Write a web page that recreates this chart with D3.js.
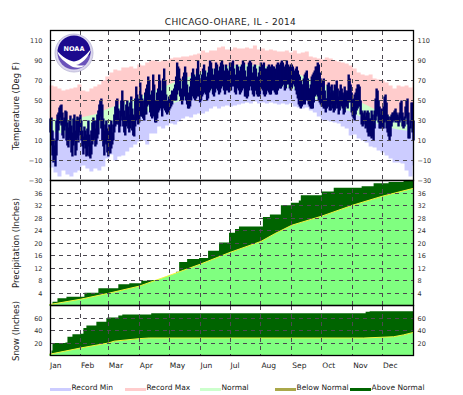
<!DOCTYPE html>
<html>
<head>
<meta charset="utf-8">
<script src="https://cdn.jsdelivr.net/npm/d3@7"></script>
<style>
  html, body { margin: 0; padding: 0; background: #fff; }
  svg { display: block; }
  text { font-family: "DejaVu Sans", sans-serif; fill: #222; }
  .grid line { stroke: #4c4850; stroke-width: 1; stroke-dasharray: 4 4; shape-rendering: crispEdges; }
  .axis path, .axis line { display: none; }
  .grid path { display: none; }
  .axis text, .grid text { font-size: 6.5px; fill: #333; }
</style>
</head>
<body>
<svg id="chart" width="463" height="395"></svg>
<script>
const months = [ 'Jan', 'Feb', 'Mar', 'Apr', 'May', 'Jun', 'Jul', 'Aug', 'Sep', 'Oct', 'Nov', 'Dec', ];
const monthStart = [ 0, 31, 59, 90, 120, 151, 181, 212, 243, 273, 304, 334, ];

const tempTicks = [ 110, 90, 70, 50, 30, 10, -10, -30, ];
const precipTicks = [ 36, 32, 28, 24, 20, 16, 12, 8, 4, ];
const snowTicks = [ 60, 40, 20, ];

// record values read every 4 days
const recordStep = 4;
const recordMax = [
  65, 64, 62, 60, 61, 62, 63, 66, 60, 59, 62, 64, 66, 70, 74, 78, 81, 80, 83, 83, 84, 82, 86,
  85, 88, 90, 90, 89, 90, 90, 92, 93, 93, 94, 94, 95, 96, 97, 100, 98, 100, 100, 103, 104, 101, 101,
  103, 102, 102, 103, 102, 105, 101, 102, 100, 101, 100, 99, 99, 100, 98, 100, 97, 98, 99, 94, 93,
  92, 91, 93, 92, 90, 89, 88, 87, 85, 82, 78, 76, 75, 76, 72, 71, 70, 68, 65, 62, 65, 64, 65, 63, 68,
];
const recordMin = [
  -17, -22, -26, -20, -24, -26, -22, -20, -15, -18, -21, -18, -20, -16, -8, -4, -10, -6, -5, -1, 3, 6, 9,
  10, 6, 17, 17, 24, 22, 25, 27, 26, 29, 32, 34, 33, 36, 37, 37, 39, 42, 44, 42, 44, 45, 44,
  45, 46, 47, 48, 47, 49, 47, 48, 47, 48, 47, 46, 47, 46, 47, 44, 43, 42, 43, 40, 38, 34, 30, 30, 29,
  28, 27, 24, 22, 15, 16, 12, 10, 8, 4, 3, 0, -2, -5, -8, -12, -12, -13, -20, -26, -15,
];

const normalDays = [ 0, 15, 31, 45, 59, 75, 90, 105, 120, 135, 151, 165, 181, 196, 212, 227, 243, 258, 273, 288, 304, 319, 334, 349, 365, ];
const normalHigh = [ 32, 31, 33, 36, 42, 48, 54, 60, 66, 72, 78, 82, 85, 86, 85, 83, 79, 73, 67, 60, 52, 45, 37, 33, 32, ];
const normalLow = [ 19, 17, 18, 21, 26, 31, 36, 41, 46, 51, 56, 61, 65, 67, 67, 65, 62, 56, 49, 44, 38, 30, 25, 21, 19, ];

const dailyHigh = [
  32, 33, 20, 12, 5, 10, 30, 36, 38, 43, 45, 46, 38, 30, 33, 40, 39, 28, 23, 30, 35, 25, 18, 32, 36, 20, 30, 34, 30, 33, 36,
  30, 20, 14, 24, 20, 16, 22, 30, 16, 8, 20, 28, 33, 30, 22, 30, 36, 40, 46, 50, 52, 46, 32, 20, 26, 30, 22, 18,
  26, 24, 30, 18, 26, 36, 44, 50, 52, 42, 32, 40, 50, 60, 50, 40, 34, 46, 50, 44, 36, 48, 54, 42, 36, 34, 52, 64, 56, 40, 52,
  68, 56, 52, 44, 50, 58, 62, 66, 74, 70, 56, 50, 60, 76, 66, 46, 50, 58, 62, 76, 70, 54, 60, 72, 82, 70, 56, 50, 48, 54,
  52, 56, 60, 58, 62, 66, 74, 88, 84, 82, 72, 60, 62, 74, 78, 84, 78, 66, 56, 58, 64, 72, 78, 82, 76, 70, 74, 82, 90, 76, 72,
  70, 76, 82, 86, 80, 74, 72, 78, 84, 90, 88, 82, 70, 76, 82, 88, 86, 80, 74, 84, 88, 90, 86, 76, 80, 86, 82, 76, 80, 88,
  78, 88, 90, 82, 72, 76, 86, 84, 80, 78, 84, 86, 90, 88, 80, 72, 74, 84, 88, 90, 88, 78, 76, 84, 86, 82, 74, 72, 78, 84, 88,
  84, 86, 88, 82, 78, 82, 84, 86, 82, 84, 86, 84, 84, 80, 82, 86, 88, 86, 84, 88, 90, 88, 84, 82, 86, 90, 86, 84, 82, 86, 86,
  84, 80, 78, 82, 84, 80, 76, 74, 70, 66, 66, 72, 76, 78, 80, 72, 62, 62, 66, 74, 76, 78, 80, 84, 84, 88, 86, 78, 72, 68,
  70, 72, 60, 52, 52, 66, 68, 64, 58, 66, 60, 58, 66, 64, 70, 62, 54, 60, 66, 62, 58, 56, 64, 60, 58, 60, 76, 72, 66, 58, 50,
  52, 56, 58, 62, 66, 66, 64, 50, 40, 38, 36, 40, 34, 38, 40, 38, 32, 32, 40, 36, 28, 40, 52, 62, 60, 50, 44, 36, 42, 40,
  44, 54, 56, 48, 36, 34, 30, 34, 36, 38, 38, 40, 42, 38, 36, 34, 38, 48, 50, 38, 32, 34, 44, 50, 52, 38, 24, 30, 48, 48, 30,
];
const dailyLow = [
  18, 5, -5, -12, -9, -16, -5, 10, 20, 27, 33, 25, 15, 12, 20, 24, 10, 5, 3, 12, 10, -2, -6, 5, 10, -5, 0, 12, 8, 18, 15,
  10, 4, -4, 6, 2, -6, -5, 4, -6, -8, -4, 6, 10, 12, 4, 6, 12, 16, 30, 34, 22, 10, 4, -5, 8, 6, -2, -6,
  5, -3, 2, 6, 10, 18, 24, 26, 30, 26, 18, 24, 34, 30, 24, 18, 15, 24, 28, 22, 18, 22, 28, 20, 15, 14, 24, 30, 32, 26, 28,
  36, 34, 34, 32, 30, 36, 36, 44, 46, 46, 38, 34, 32, 38, 34, 28, 28, 32, 38, 40, 44, 42, 34, 42, 44, 40, 38, 36, 38, 40,
  42, 44, 46, 50, 52, 50, 50, 56, 62, 60, 54, 50, 46, 50, 54, 56, 50, 46, 42, 42, 44, 50, 54, 56, 52, 50, 52, 54, 60, 54, 48,
  50, 54, 56, 58, 58, 56, 50, 52, 58, 60, 62, 62, 56, 54, 58, 62, 62, 60, 56, 58, 62, 64, 66, 60, 56, 60, 62, 60, 58, 60,
  60, 64, 66, 64, 58, 56, 62, 64, 60, 56, 58, 60, 66, 62, 54, 54, 52, 54, 60, 66, 64, 60, 56, 54, 60, 60, 56, 54, 54, 56, 62,
  62, 60, 56, 54, 56, 60, 60, 58, 56, 56, 60, 62, 60, 58, 56, 56, 60, 64, 62, 62, 64, 66, 66, 60, 62, 66, 68, 66, 62, 60, 62,
  68, 66, 64, 60, 56, 52, 46, 44, 42, 44, 46, 48, 46, 50, 54, 50, 46, 44, 42, 42, 42, 48, 54, 56, 56, 54, 50, 48, 46, 44,
  44, 42, 42, 38, 42, 44, 44, 40, 40, 46, 42, 38, 40, 42, 46, 42, 36, 40, 46, 44, 42, 36, 38, 44, 44, 42, 48, 50, 48, 38, 34,
  32, 30, 36, 40, 42, 44, 44, 36, 26, 24, 26, 30, 22, 24, 18, 14, 16, 14, 12, 14, 10, 22, 30, 34, 36, 28, 22, 22, 24, 22,
  22, 28, 30, 22, 18, 14, 10, 14, 24, 28, 30, 30, 28, 30, 28, 24, 28, 32, 30, 24, 22, 24, 32, 34, 26, 12, 12, 22, 28, 18, 10,
];

const precipNormalDays = [ 0, 31, 59, 90, 120, 151, 181, 212, 226, 243, 273, 304, 334, 365, ];
const precipNormal = [ 0.3, 2, 3.9, 6.2, 9.6, 13.2, 17, 20.5, 23, 25.7, 28.6, 32.1, 35, 37.5, ];
const precipDays = [ 0, 3, 8, 17, 35, 49, 69, 80, 92, 102, 115, 120, 127, 130, 138, 150, 159, 170, 180, 186, 190, 214, 221, 232, 242, 250, 252, 273, 285, 313, 325, 340, 355, ];
const precipTotal = [ 0.5, 1.2, 2.3, 2.8, 4.1, 5.5, 6.8, 7.1, 7.9, 8.2, 9, 9.7, 10.8, 13.9, 14.9, 15.2, 17.5, 20.2, 23.3, 24.5, 25.3, 28.3, 29.1, 32.1, 32.9, 33.6, 35.3, 36.5, 37.7, 38.2, 39.1, 39.5, 40, ];

const snowNormalDays = [ 0, 31, 59, 65, 90, 100, 315, 345, 355, 365, ];
const snowNormal = [ 2, 12, 20, 23, 27, 28, 28, 30, 33, 37, ];
const snowDays = [ 0, 2, 3, 16, 18, 23, 31, 34, 37, 47, 57, 58, 69, 73, 102, 317, 321, ];
const snowTotal = [ 3, 8, 20, 21, 30, 34, 35, 44, 48, 54, 60, 61, 64, 65.5, 67.7, 70, 71, ];

const legendLabels = [ 'Record Min', 'Record Max', 'Normal', 'Below Normal', 'Above Normal', ];
const legendColors = [ '#ccccff', '#ffcccc', '#ccffcc', '#aaa84a', '#006400', ];

const LEFT = 49.5;
const RIGHT = 413.5;
const svg = d3.select('#chart');

const x = d3.scaleLinear().domain([ 0, 365, ]).range([ LEFT, RIGHT, ]);
const yTemp = d3.scaleLinear().domain([ -30, 120, ]).range([ 180.5, 30.5, ]);
const yPrecip = d3.scaleLinear().domain([ 0, 40, ]).range([ 305.5, 180.5, ]);
const ySnow = d3.scaleLinear().domain([ 0, 80, ]).range([ 355.5, 305.5, ]);

const crisp = v => Math.round(v) + 0.5;

// title
svg.append('text')
  .attr('x', 230.5)
  .attr('y', 25)
  .attr('text-anchor', 'middle')
  .style('font-size', '9px')
  .style('letter-spacing', '0.35px')
  .text('CHICAGO-OHARE, IL - 2014');

const pairs = (days, vals) => days.map((d, i) => ({ d, v: vals[i], }));
const recordPairs = vals => pairs(vals.map((v, i) => i * recordStep).concat(365), vals.concat(vals[vals.length - 1]));
const under = (y, curve) => d3.area().curve(curve).x(p => x(p.d)).y0(y(y.domain()[0])).y1(p => y(p.v));

// temperature panel, painted from the top band down
const tempBands = [
  { data: recordPairs(recordMax), fill: '#ffcccc', curve: d3.curveStepAfter, },
  { data: pairs(normalDays, normalHigh), fill: '#ccffcc', curve: d3.curveLinear, },
  { data: pairs(normalDays, normalLow), fill: '#ccccff', curve: d3.curveLinear, },
  { data: recordPairs(recordMin), fill: '#fff', curve: d3.curveStepAfter, },
];

svg.append('g')
  .selectAll('path')
  .data(tempBands)
  .enter()
  .append('path')
  .attr('fill', d => d.fill)
  .attr('d', d => under(yTemp, d.curve)(d.data));

svg.append('g')
  .selectAll('rect')
  .data(dailyHigh)
  .enter()
  .append('rect')
  .attr('x', (d, i) => x(i) - 0.2)
  .attr('width', 2.4)
  .attr('y', d => yTemp(d))
  .attr('height', (d, i) => Math.max(1, yTemp(dailyLow[i]) - yTemp(d)))
  .attr('fill', '#000068');

// accumulation panels
const accumPanel = (y, days, total, normDays, norm) => {
  const actual = pairs(days.concat(365), total.concat(total[total.length - 1]));
  const normal = pairs(normDays, norm);

  svg.append('path')
    .attr('fill', '#006400')
    .attr('d', under(y, d3.curveStepAfter)(actual));
  svg.append('path')
    .attr('fill', '#80ff80')
    .attr('d', under(y, d3.curveLinear)(normal));
  svg.append('path')
    .attr('fill', 'none')
    .attr('stroke', '#f4f43c')
    .attr('stroke-width', 1)
    .attr('d', d3.line().x(p => x(p.d)).y(p => y(p.v))(normal));
};

accumPanel(yPrecip, precipDays, precipTotal, precipNormalDays, precipNormal);
accumPanel(ySnow, snowDays, snowTotal, snowNormalDays, snowNormal);

// dashed grid, on top of the marks
const panels = [
  { y: yTemp, ticks: tempTicks, top: 30.5, bottom: 180.5, },
  { y: yPrecip, ticks: precipTicks, top: 180.5, bottom: 305.5, },
  { y: ySnow, ticks: snowTicks, top: 305.5, bottom: 355.5, },
];

panels.forEach((p) => {
  svg.append('g')
    .attr('class', 'grid')
    .attr('transform', `translate(${LEFT + 1},0)`)
    .call(d3.axisLeft(p.y).tickValues(p.ticks).tickSize(-(RIGHT - LEFT - 1)).tickPadding(8))
    .call(g => g.selectAll('.tick').attr('transform', d => `translate(0,${crisp(p.y(d) - 0.5)})`))
    .call(g => g.selectAll('.tick').filter(d => d === -30).select('line').remove());

  svg.append('g')
    .attr('class', 'axis')
    .attr('transform', `translate(${RIGHT},0)`)
    .call(d3.axisRight(p.y).tickValues(p.ticks).tickSize(0).tickPadding(4));

  svg.append('g')
    .selectAll('line')
    .data(monthStart.slice(1))
    .enter()
    .append('line')
    .attr('x1', d => crisp(x(d) - 0.5))
    .attr('x2', d => crisp(x(d) - 0.5))
    .attr('y1', p.top)
    .attr('y2', p.bottom)
    .attr('stroke', '#4c4850')
    .attr('stroke-dasharray', '4 4')
    .attr('shape-rendering', 'crispEdges');

  svg.append('rect')
    .attr('x', LEFT + 1)
    .attr('y', p.top)
    .attr('width', RIGHT - LEFT - 1)
    .attr('height', p.bottom - p.top)
    .attr('fill', 'none')
    .attr('stroke', '#000')
    .attr('stroke-width', 1.3);
});

// y titles
const yTitle = (label, cy) => svg.append('text')
  .attr('transform', `translate(19,${cy}) rotate(-90)`)
  .attr('text-anchor', 'middle')
  .style('font-size', '8.5px')
  .text(label);

yTitle('Temperature (Deg F)', 106);
yTitle('Precipitation (Inches)', 243);
yTitle('Snow (Inches)', 331);

// month labels
svg.append('g')
  .selectAll('text')
  .data(months)
  .enter()
  .append('text')
  .attr('x', (d, i) => x(monthStart[i]) + 0.5)
  .attr('y', 368)
  .style('font-size', '7.5px')
  .text(d => d);

// legend
const legend = svg.append('g')
  .selectAll('g')
  .data(legendLabels)
  .enter()
  .append('g')
  .attr('transform', (d, i) => `translate(${50 + i * 75},0)`);

legend.append('rect')
  .attr('y', 388)
  .attr('width', 21)
  .attr('height', 3)
  .attr('fill', (d, i) => legendColors[i]);
legend.append('text')
  .attr('x', 21.5)
  .attr('y', 390)
  .style('font-size', '7.5px')
  .text(d => d);

// NOAA logo
const logo = svg.append('g').attr('transform', 'translate(74,53)');

logo.append('circle').attr('r', 19).attr('fill', '#dcd8ee').attr('stroke', '#b8b4d4').attr('stroke-width', 0.8);
logo.append('circle').attr('r', 16.5).attr('fill', '#6a52ba');
logo.append('path')
  .attr('fill', '#1c0a8e')
  .attr('d', 'M-16.5,-1 A16.5,16.5 0 0 1 16.5,-1 L16,2 C10,4 6,8 -1,10 C-6,7 -12,3 -16,1 Z');
logo.append('path')
  .attr('fill', '#fff')
  .attr('d', 'M-17,-2 C-12,3 -6,8 0,8.5 C6,8 12,2 17,-4 C14,5 8,11 2,12 C6,12.5 9,13 11,12 C7,16 0,15 -3,13 C-9,9 -15,5 -17,-2 Z');
logo.append('text')
  .attr('y', -2)
  .attr('text-anchor', 'middle')
  .style('font-size', '6.5px')
  .style('font-weight', 'bold')
  .style('fill', '#fff')
  .text('NOAA');
</script>
</body>
</html>
